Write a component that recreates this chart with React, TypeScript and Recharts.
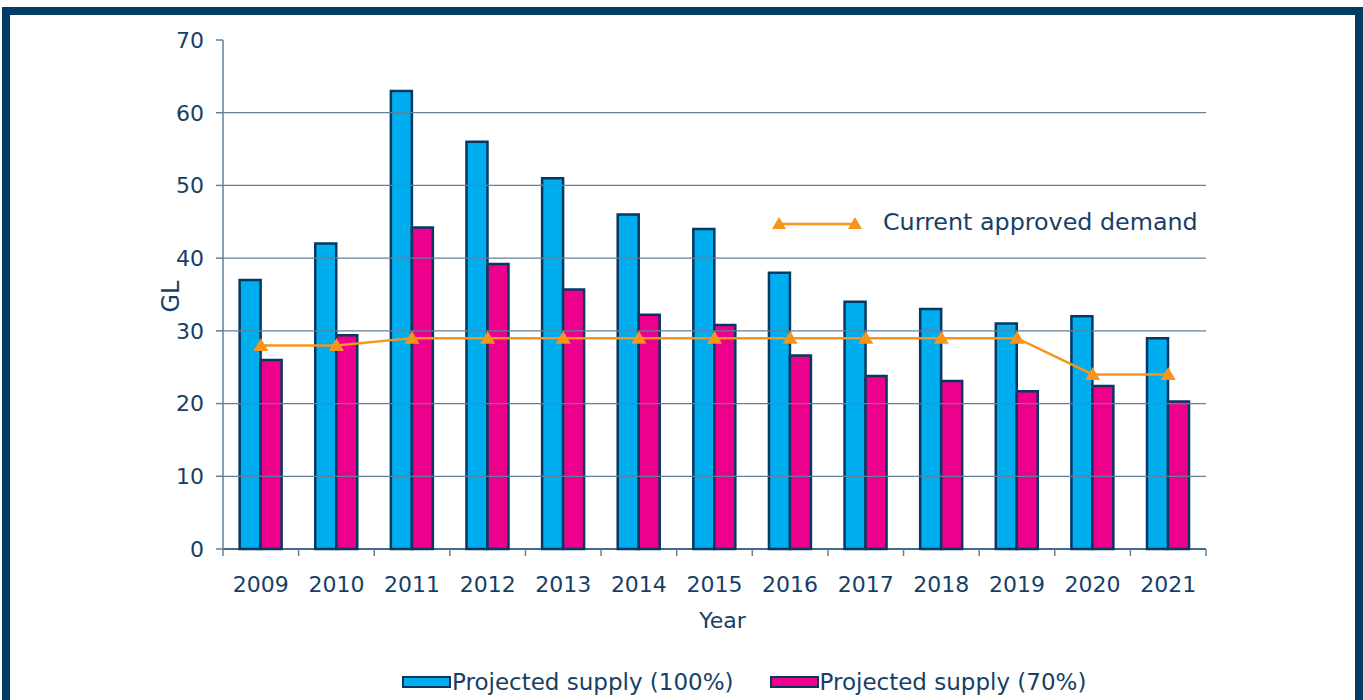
import React from 'react';
import { ComposedChart, Bar, Line, XAxis, YAxis, ReferenceLine, Legend } from 'recharts';

const years = ['2009', '2010', '2011', '2012', '2013', '2014', '2015', '2016', '2017', '2018', '2019', '2020', '2021'];
const supply100 = [37, 42, 63, 56, 51, 46, 44, 38, 34, 33, 31, 32, 29];
const supply70 = [26, 29.4, 44.2, 39.2, 35.7, 32.2, 30.8, 26.6, 23.8, 23.1, 21.7, 22.4, 20.3];
const demand = [28, 28, 29, 29, 29, 29, 29, 29, 29, 29, 29, 24, 24];
const yTicks = [0, 10, 20, 30, 40, 50, 60, 70];
const gridValues = [10, 20, 30, 40, 50, 60];

const data = years.map((y, i) => ({ year: y, s100: supply100[i], s70: supply70[i], demand: demand[i] }));

const TEXT = '#173F66';
const NAVY = '#073862';
const GRID = '#5F819C';
const BLUE = '#00AEEF';
const PINK = '#EC008C';
const ORANGE = '#F7941D';
const FONT = '"DejaVu Sans", sans-serif';

const TriangleDot = (props: any) => {
  const { cx, cy, index } = props;
  if (cx == null || cy == null) return null;
  return <path key={`t-${index}`} d={`M${cx},${cy - 7.5} L${cx + 7.5},${cy + 5.5} L${cx - 7.5},${cy + 5.5} Z`} fill={ORANGE} stroke="none" />;
};

const XTick = (props: any) => {
  const { x, y, payload, index } = props;
  const off = payload && typeof payload.offset === 'number' ? payload.offset : 0;
  const axisY = y - 27;
  return (
    <g>
      <line x1={x - off} x2={x - off} y1={axisY} y2={axisY + 7} stroke={GRID} strokeWidth={1.5} />
      {index === years.length - 1 && (
        <line x1={x + off} x2={x + off} y1={axisY} y2={axisY + 7} stroke={GRID} strokeWidth={1.5} />
      )}
      <text x={x} y={y} dy="0.72em" textAnchor="middle" fill={TEXT} fontSize={22} fontFamily={FONT}>
        {payload.value}
      </text>
    </g>
  );
};

const BarLegend = (props: any) => {
  const items = (props.payload || []).filter((p: any) => p.type !== 'line' && p.dataKey !== 'demand');
  return (
    <div style={{ display: 'flex', alignItems: 'center', fontFamily: FONT, fontSize: 23, color: TEXT, whiteSpace: 'nowrap' }}>
      {items.map((it: any, i: number) => (
        <div key={i} style={{ display: 'flex', alignItems: 'center', marginRight: i === 0 ? 36 : 0 }}>
          <span style={{ display: 'inline-block', width: 45, height: 8, background: it.color, border: `2.5px solid ${NAVY}`, marginRight: 1 }} />
          <span>{it.value}</span>
        </div>
      ))}
    </div>
  );
};

const LineLegend = (props: any) => {
  const items = (props.payload || []).filter((p: any) => p.dataKey === 'demand');
  return (
    <div style={{ display: 'flex', alignItems: 'center', fontFamily: FONT, fontSize: 23.8, color: TEXT, whiteSpace: 'nowrap' }}>
      {items.map((it: any, i: number) => (
        <div key={i} style={{ display: 'flex', alignItems: 'center' }}>
          <svg width={92} height={16} style={{ marginRight: 20 }}>
            <line x1={8} x2={84} y1={10} y2={10} stroke={ORANGE} strokeWidth={2.5} />
            <path d="M8,3 L15,15 L1,15 Z" fill={ORANGE} />
            <path d="M84,3 L91,15 L77,15 Z" fill={ORANGE} />
          </svg>
          <span>{it.value}</span>
        </div>
      ))}
    </div>
  );
};

export default function App() {
  return (
    <div style={{ position: 'absolute', left: 0, top: 0, width: 1363, height: 700, overflow: 'hidden', background: '#fff' }}>
      <div style={{ position: 'absolute', left: 2, top: 7, width: 1361, height: 800, border: '8px solid #003C64', boxSizing: 'border-box' }} />
      <div style={{ position: 'absolute', left: 0, top: 0 }}>
        <ComposedChart
          width={1363}
          height={700}
          data={data}
          margin={{ top: 40, right: 157, bottom: 71, left: 140 }}
          barCategoryGap="22%"
          barGap={0}
        >
          {gridValues.map((v) => (
            <ReferenceLine key={v} y={v} stroke={GRID} strokeWidth={1.3} ifOverflow="visible" />
          ))}
          <XAxis
            dataKey="year"
            height={80}
            axisLine={{ stroke: NAVY, strokeWidth: 1.5 }}
            tickLine={false}
            tickSize={0}
            tickMargin={27}
            tick={<XTick />}
            interval={0}
            label={(lp: any) => {
              const vb = lp.viewBox || {};
              return (
                <text x={vb.x + vb.width / 2 + 8} y={vb.y + 79} textAnchor="middle" fill={TEXT} fontSize={22} fontFamily={FONT}>
                  Year
                </text>
              );
            }}
          />
          <YAxis
            width={83}
            domain={[0, 70]}
            ticks={yTicks}
            interval={0}
            axisLine={{ stroke: GRID, strokeWidth: 1.5 }}
            tickLine={{ stroke: GRID, strokeWidth: 1.5 }}
            tickSize={7}
            tickMargin={12}
            tick={{ fill: TEXT, fontSize: 22, fontFamily: FONT }}
            label={(lp: any) => {
              const vb = lp.viewBox || {};
              const cx = vb.x + 31;
              const cy = vb.y + vb.height / 2 + 2;
              return (
                <text x={cx} y={cy} transform={`rotate(-90 ${cx} ${cy})`} textAnchor="middle" dominantBaseline="central" fill={TEXT} fontSize={24} fontFamily={FONT}>
                  GL
                </text>
              );
            }}
          />
          <Bar dataKey="s100" name="Projected supply (100%)" fill={BLUE} stroke={NAVY} strokeWidth={2.5} isAnimationActive={false} />
          <Bar dataKey="s70" name="Projected supply (70%)" fill={PINK} stroke={NAVY} strokeWidth={2.5} isAnimationActive={false} />
          <Line
            dataKey="demand"
            name="Current approved demand"
            type="linear"
            stroke={ORANGE}
            strokeWidth={2.5}
            dot={TriangleDot}
            activeDot={false}
            legendType="triangle"
            isAnimationActive={false}
          />
          <Legend
            layout="horizontal"
            verticalAlign="middle"
            align="center"
            content={<BarLegend />}
            wrapperStyle={{ top: 669, left: 402, width: 'auto', height: 'auto' }}
          />
          <Legend
            layout="horizontal"
            verticalAlign="middle"
            align="center"
            content={<LineLegend />}
            wrapperStyle={{ top: 208, left: 771, width: 'auto', height: 'auto' }}
          />
        </ComposedChart>
      </div>
    </div>
  );
}
